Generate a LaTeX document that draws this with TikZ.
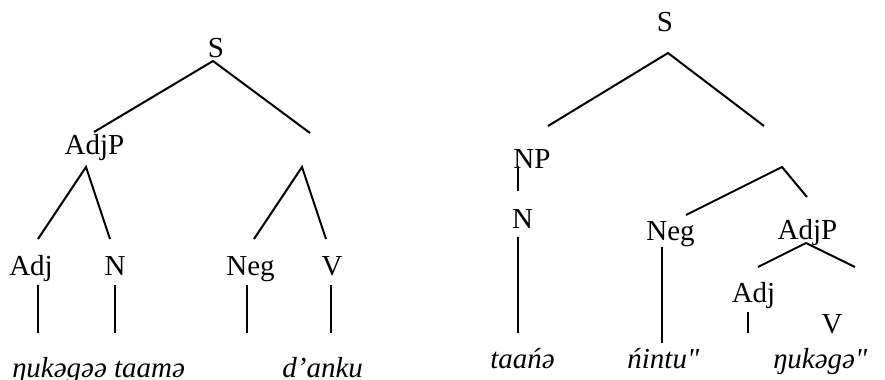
\documentclass[tikz,border=0pt]{standalone}
\usepackage{fontspec}
\setmainfont{Liberation Serif}[Ligatures=TeXOff]
\usepackage{tikz}
\tikzstyle{cat} = [
    inner sep = 0pt,
    anchor = base,
    font = \fontsize{14.5}{17}\selectfont
]
\tikzstyle{word} = [
    inner sep = 0pt,
    anchor = base west,
    font = \fontsize{14.5}{17}\selectfont\itshape
]
\tikzstyle{branch} = [
    line width = 1pt
]
\begin{document}
\begin{tikzpicture}[x=0.5pt, y=-0.5pt]
                \useasboundingbox (0,0) rectangle (885,380);

                % left tree
                \node [cat] (s1) at (216,57) {S};
                \node [cat] (adjp1) at (94.5,155) {AdjP};
                \node [cat] (adj1) at (31,275) {Adj};
                \node [cat] (n1) at (115,275) {N};
                \node [cat] (neg1) at (250.5,275) {Neg};
                \node [cat] (v1) at (332,275) {V};
                \node [word] (w11) at (12,377) {ŋukəgəə taamə};
                \node [word] (w12) at (282,377) {d’anku};

                \coordinate (s1Apex) at (213,61);
                \coordinate (adjp1Top) at (94,132);
                \coordinate (vp1Top) at (310,133);
                \coordinate (adjp1Apex) at (86,167);
                \coordinate (vp1Apex) at (302,167);
                \coordinate (adj1Top) at (38,239);
                \coordinate (n1Top) at (110,239);
                \coordinate (neg1Top) at (254,239);
                \coordinate (v1Top) at (326,239);

                \draw [branch] (adjp1Top) -- (s1Apex) -- (vp1Top);
                \draw [branch] (adj1Top) -- (adjp1Apex) -- (n1Top);
                \draw [branch] (neg1Top) -- (vp1Apex) -- (v1Top);
                \foreach \x in {38,115,247,331}
                    \draw [branch] (\x,285) -- (\x,333);

                % right tree
                \node [cat] (s2) at (665,32) {S};
                \node [cat] (np2) at (532,168) {NP};
                \node [cat] (n2) at (522.5,228) {N};
                \node [cat] (neg2) at (670.5,240) {Neg};
                \node [cat] (adjp2) at (807.5,239) {AdjP};
                \node [cat] (adj2) at (753.5,302) {Adj};
                \node [cat] (v2) at (832,333) {V};
                \node [word] (w21) at (490,368) {taańə};
                \node [word] (w22) at (627,368) {ńintu"};
                \node [word] (w23) at (773,368) {ŋukəgə"};

                \coordinate (s2Apex) at (668,53);
                \coordinate (np2Top) at (548,126);
                \coordinate (vp2Top) at (764,126);
                \coordinate (vp2Apex) at (782,167);
                \coordinate (neg2Top) at (686,215);
                \coordinate (adjp2Top) at (807,197);
                \coordinate (adjp2Apex) at (806,243);
                \coordinate (adj2Top) at (758,267);
                \coordinate (v2Top) at (855,267);

                \draw [branch] (np2Top) -- (s2Apex) -- (vp2Top);
                \draw [branch] (neg2Top) -- (vp2Apex) -- (adjp2Top);
                \draw [branch] (adj2Top) -- (adjp2Apex) -- (v2Top);
                \draw [branch] (518,166) -- (518,191);
                \draw [branch] (518,237) -- (518,333);
                \draw [branch] (662,247) -- (662,343);
                \draw [branch] (748,312) -- (748,333);

            \end{tikzpicture}
\end{document}
